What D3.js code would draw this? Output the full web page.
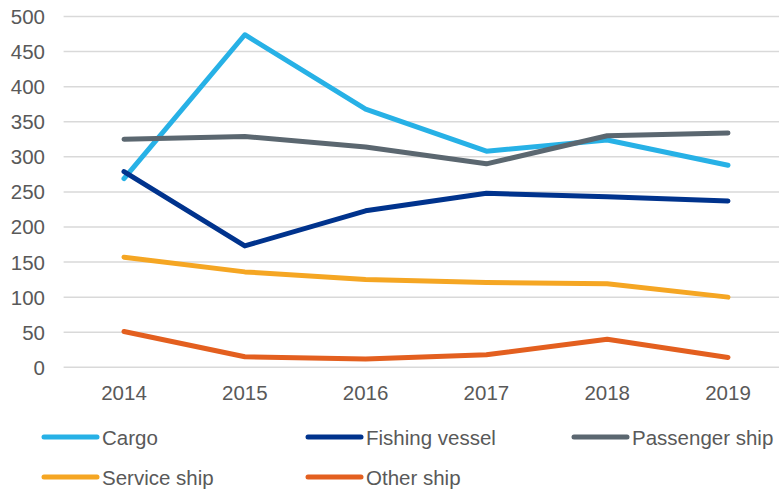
<!DOCTYPE html>
<html>
<head>
<meta charset="utf-8">
<script src="https://cdn.jsdelivr.net/npm/d3@7"></script>
<style>
  html, body { margin: 0; padding: 0; background: #fff; }
  svg { display: block; }
  text { font-family: "Liberation Sans", Arial, sans-serif; fill: #595959; }
</style>
</head>
<body>
<svg id="chart" width="779" height="490"></svg>
<script>
const years = ["2014", "2015", "2016", "2017", "2018", "2019"];
const yTicks = [0, 50, 100, 150, 200, 250, 300, 350, 400, 450, 500];
const seriesNames = ["Cargo", "Fishing vessel", "Passenger ship", "Service ship", "Other ship"];
const cargo = [269, 474, 368, 308, 324, 288];
const fishingVessel = [279, 173, 223, 248, 243, 237];
const passengerShip = [325, 329, 314, 290, 330, 334];
const serviceShip = [157, 136, 125, 121, 119, 100];
const otherShip = [51, 15, 12, 18, 40, 14];
const seriesColors = ["#27B1E6", "#00338D", "#5B6770", "#F5A623", "#E35F1F"];

const allSeries = [cargo, fishingVessel, passengerShip, serviceShip, otherShip];

const svg = d3.select("#chart");
const plotLeft = 63.6, plotRight = 788.4, plotTop = 16.5, plotBottom = 367.3;

const x = d3.scalePoint().domain(years).range([plotLeft, plotRight]).padding(0.5);
const y = d3.scaleLinear().domain([0, 500]).range([plotBottom, plotTop]);

// gridlines
svg.append("g").selectAll("line").data(yTicks).join("line")
  .attr("x1", plotLeft).attr("x2", plotRight)
  .attr("y1", d => y(d)).attr("y2", d => y(d))
  .attr("stroke", "#D9D9D9").attr("stroke-width", 1.5);

// y labels
svg.append("g").selectAll("text").data(yTicks).join("text")
  .attr("x", 45).attr("y", d => y(d))
  .attr("text-anchor", "end").attr("dominant-baseline", "central")
  .style("font-size", "20.5px")
  .text(d => d);

// x labels
svg.append("g").selectAll("text").data(years).join("text")
  .attr("x", d => x(d)).attr("y", 400)
  .attr("text-anchor", "middle")
  .style("font-size", "20.5px")
  .text(d => d);

// lines
const line = d3.line().x((d, i) => x(years[i])).y(d => y(d));
svg.append("g").selectAll("path").data(allSeries).join("path")
  .attr("d", d => line(d))
  .attr("fill", "none")
  .attr("stroke", (d, i) => seriesColors[i])
  .attr("stroke-width", 5)
  .attr("stroke-linecap", "round")
  .attr("stroke-linejoin", "round");

// legend
const legendPos = [
  [44, 437], [308, 437], [574, 437],
  [44, 477], [308, 477]
];
const lg = svg.append("g").selectAll("g").data(seriesNames).join("g")
  .attr("transform", (d, i) => `translate(${legendPos[i][0]},${legendPos[i][1]})`);
lg.append("line")
  .attr("x1", 0).attr("x2", 53).attr("y1", 0).attr("y2", 0)
  .attr("stroke", (d, i) => seriesColors[i])
  .attr("stroke-width", 5)
  .attr("stroke-linecap", "round");
lg.append("text")
  .attr("x", 58).attr("y", 0)
  .attr("dominant-baseline", "central")
  .style("font-size", "20.5px")
  .text(d => d);
</script>
</body>
</html>
